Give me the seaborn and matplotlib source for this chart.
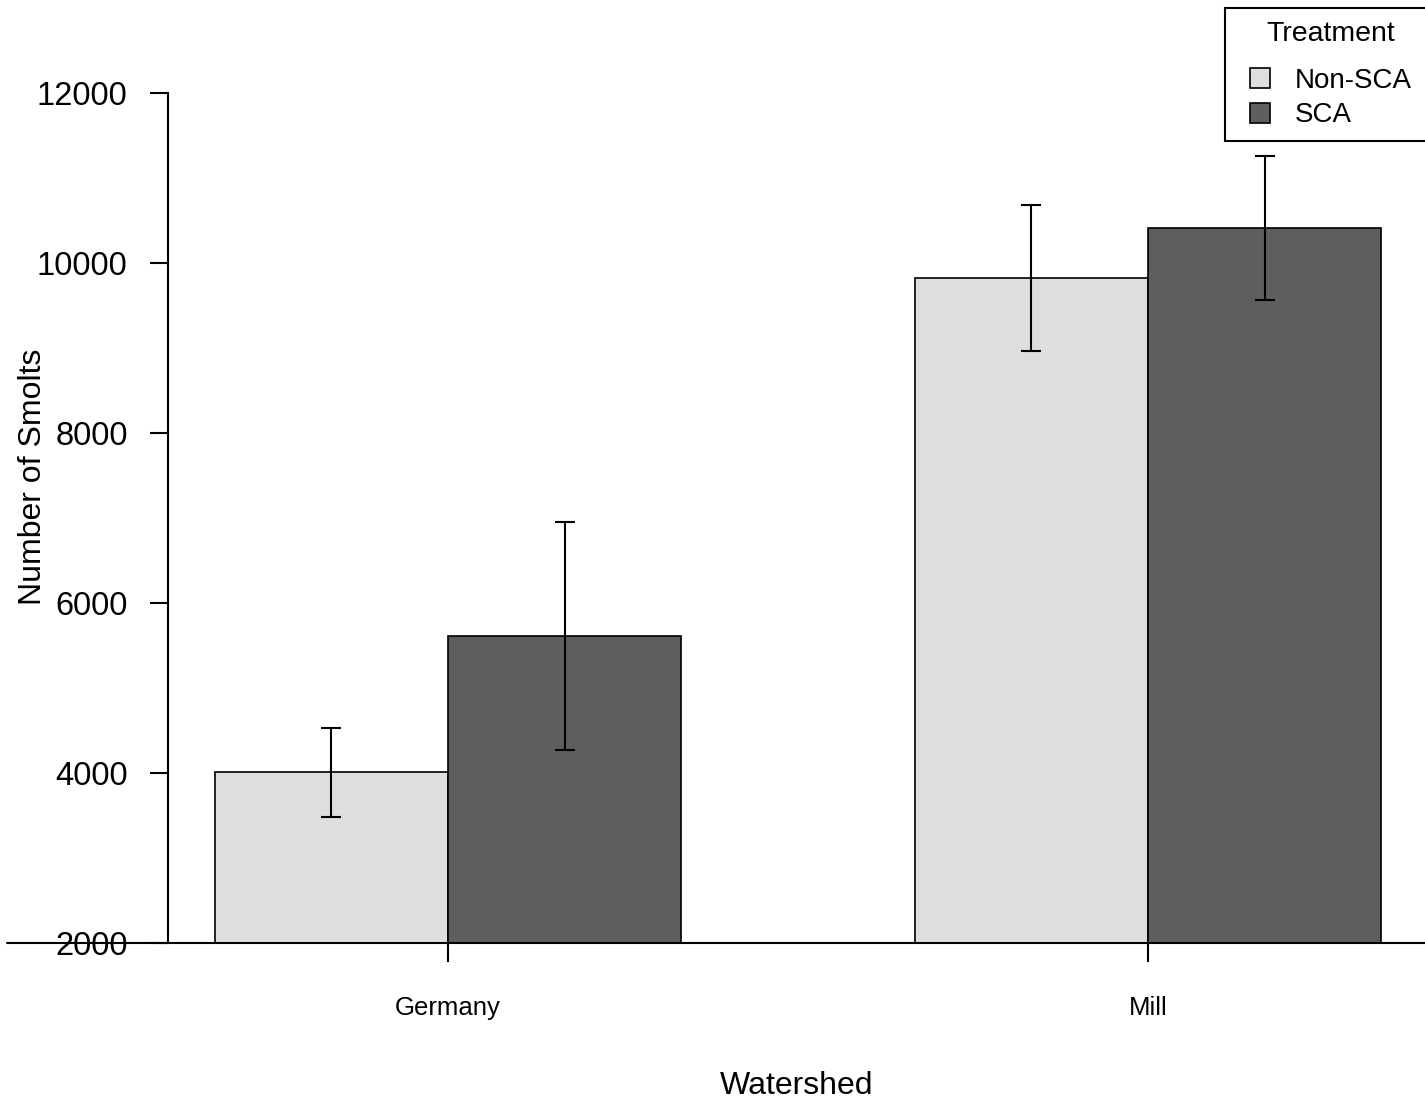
import matplotlib.pyplot as plt
import matplotlib.transforms as mtransforms
from matplotlib.patches import Patch, Rectangle
from matplotlib.legend_handler import HandlerPatch
import pandas as pd
import seaborn as sns

# data
watersheds = ["Germany", "Mill"]
treatments = ["Non-SCA", "SCA"]
smolts_non_sca = [4010, 9825]
smolts_sca = [5610, 10410]
se_non_sca = [525, 860]
se_sca = [1340, 847]
colors = ["#DEDEDE", "#5E5E5E"]

df = pd.DataFrame({
    "Watershed": watersheds * 2,
    "Treatment": [treatments[0]] * 2 + [treatments[1]] * 2,
    "Smolts": smolts_non_sca + smolts_sca,
})

sns.set_style("ticks")
plt.rcParams["font.family"] = ["Liberation Sans", "DejaVu Sans"]
for k in ["text.color", "axes.labelcolor", "xtick.color", "ytick.color"]:
    plt.rcParams[k] = "black"

fig = plt.figure(figsize=(14.25, 11.02), dpi=100)
ax = fig.add_axes([168 / 1425, 1 - 943 / 1102, 1260 / 1425, 850 / 1102])

sns.barplot(
    data=df, x="Watershed", y="Smolts", hue="Treatment",
    order=watersheds, hue_order=treatments, palette=colors,
    width=2 / 3, gap=0, errorbar=None, edgecolor="black",
    linewidth=1.2, ax=ax,
)

# error bars at the bar centres seaborn placed
errs = [se_non_sca, se_sca]
for cont, err in zip(ax.containers, errs):
    xs = [b.get_x() + b.get_width() / 2 for b in cont]
    ys = [b.get_height() for b in cont]
    ax.errorbar(xs, ys, yerr=err, fmt="none", ecolor="black",
                elinewidth=1.5, capsize=7.5, capthick=1.5, zorder=5)

ax.set_xlim(-0.4, 1.4)
ax.set_ylim(2000, 12000)
ax.set_yticks(range(2000, 12001, 2000))

sns.despine(ax=ax, bottom=True)
ax.spines["left"].set_bounds(2000, 12000)
ax.spines["left"].set_linewidth(1.5)
ax.spines["left"].set_color("black")
ax.tick_params(axis="y", labelsize=23.5, length=13, width=1.5, pad=16)
ax.tick_params(axis="x", labelsize=18.5, length=13.5, width=1.5, pad=25)

# line across the whole figure at the base
trans = mtransforms.blended_transform_factory(fig.transFigure, ax.transData)
ax.plot([7 / 1425, 1], [2000, 2000], color="black", lw=1.5,
        transform=trans, clip_on=False, zorder=6)

ax.set_xlabel("Watershed", fontsize=23)
ax.set_ylabel("Number of Smolts", fontsize=23)
ax.xaxis.label.set_va("center")
ax.xaxis.set_label_coords(0.499, -0.168)
ax.yaxis.label.set_va("center")
ax.yaxis.set_label_coords(-0.107, 0.549)


# small square key, pushed right inside the handle box
def square_key(legend, orig_handle, xdescent, ydescent, width, height, fontsize):
    s = 20 * 0.72
    return Rectangle((-xdescent + width - s, -ydescent + (height - s) / 2), s, s)


handles = [Patch(facecolor=c, edgecolor="black", linewidth=1.2) for c in colors]
# legend box runs past the right edge of the figure, as in the reference
leg = ax.legend(
    handles, treatments, title="Treatment", loc="upper left", mode="expand",
    bbox_to_anchor=(1225 / 1425, 1 - 8 / 1102, 212 / 1425, 0),
    bbox_transform=fig.transFigure,
    fontsize=20, title_fontsize=20.5, frameon=True, fancybox=False,
    edgecolor="black", framealpha=1, borderaxespad=0, borderpad=0.47,
    handlelength=1.15, handleheight=0.72, handletextpad=0.9, labelspacing=0.3,
    handler_map={Patch: HandlerPatch(patch_func=square_key)},
)
leg.get_frame().set_linewidth(1.5)
leg._legend_box.sep = 0.3 * 20 + 9

fig.savefig("out.png", dpi=100)
